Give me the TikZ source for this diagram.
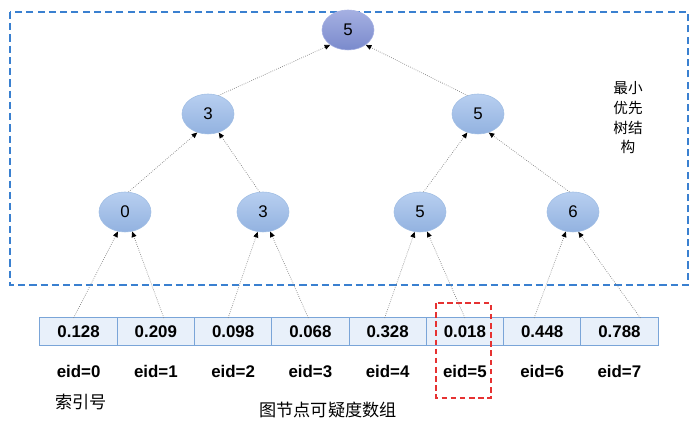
\documentclass[tikz,border=0pt]{standalone}
\usepackage{fontspec}
\setmainfont{Liberation Sans}
\newfontfamily\cjk{Noto Sans CJK SC}
\usetikzlibrary{arrows.meta,positioning,shapes.geometric,calc}
\definecolor{TreeTop}{RGB}{184,207,240}
\definecolor{TreeBot}{RGB}{146,178,224}
\definecolor{TreeLine}{RGB}{160,190,228}
\definecolor{RootTop}{RGB}{165,176,226}
\definecolor{RootBot}{RGB}{122,138,204}
\definecolor{CellFill}{RGB}{232,240,250}
\definecolor{CellLine}{RGB}{122,165,216}
\definecolor{FrameBlue}{RGB}{58,128,208}
\definecolor{MarkRed}{RGB}{230,50,50}
\tikzset{
  heapnode/.style={ellipse,draw=TreeLine,top color=TreeTop,bottom color=TreeBot,
    minimum width=1.3cm,minimum height=1cm,inner sep=0pt,font=\fontsize{12}{14}\selectfont},
  rootnode/.style={heapnode,draw=RootTop,top color=RootTop,bottom color=RootBot},
  cellbox/.style={draw=CellLine,fill=CellFill,line width=0.7pt,minimum width=1.931cm,
    minimum height=0.675cm,inner sep=0pt,outer sep=0pt,font=\bfseries\fontsize{12}{14}\selectfont},
  eidlabel/.style={font=\bfseries\fontsize{12}{14}\selectfont},
  cjklabel/.style={font=\cjk\fontsize{12.2}{14}\selectfont},
  link/.style={densely dotted,gray,line width=0.5pt,-{Triangle[black,length=4pt,width=3.5pt]}}
}
\begin{document}
\begin{tikzpicture}[x=0.025cm,y=-0.025cm]
\useasboundingbox (0,0) rectangle (700,425);
% frame of the heap
\draw[FrameBlue,line width=1pt,dash pattern=on 5pt off 3pt] (10,12) rectangle (688,285);
\node[cjklabel,font=\cjk\fontsize{10.4}{14}\selectfont,align=center,text width=1cm] (title) at (628,118) {最小\\优先\\树结\\构};
% tree
\node[rootnode] (r) at (348,30) {5};
\node[heapnode] (a) at (208,114) {3};
\node[heapnode] (b) at (478,114) {5};
\node[heapnode] (n0) at (125,212) {0};
\node[heapnode] (n1) at (263,212) {3};
\node[heapnode] (n2) at (420,212) {5};
\node[heapnode] (n3) at (573,212) {6};
% array of values
\node[cellbox] (c0) at (78.6,331.5) {0.128};
\foreach \v [count=\i from 1,evaluate=\i as \p using int(\i-1)] in {0.209,0.098,0.068,0.328,0.018,0.448,0.788}
  \node[cellbox,right=0pt of c\p] (c\i) {\v};
\foreach \i in {0,...,7}
  \node[eidlabel] (e\i) at ($(c\i)+(0,40)$) {eid=\i};
\node[cjklabel] (idx) at (81,402) {索引号};
\node[cjklabel] (arr) at (328,410) {图节点可疑度数组};
% highlighted cell
\draw[MarkRed,line width=1pt,dash pattern=on 4pt off 2.5pt] (436,303) rectangle (491,398);
% connectors
\draw[link] ($(c0.north)+(-5,0)$) -- (n0.250);
\draw[link] ($(c1.north)+(8,0)$) -- (n0.290);
\draw[link] ($(c2.north)+(-5,0)$) -- (n1.255);
\draw[link] ($(c3.north)+(-2,0)$) -- (n1.290);
\draw[link] ($(c4.north)+(-3,0)$) -- (n2.255);
\draw[link] (c5.north) -- (n2.290);
\draw[link] ($(c6.north)+(-8,0)$) -- (n3.250);
\draw[link] ($(c7.north)+(21,0)$) -- (n3.285);
\draw[link] (n0.80) -- (a.240);
\draw[link] (n1.100) -- (a.300);
\draw[link] (n2.80) -- (b.240);
\draw[link] (n3.100) -- (b.300);
\draw[link] (a.60) -- (r.220);
\draw[link] (b.120) -- (r.320);
\end{tikzpicture}
\end{document}
